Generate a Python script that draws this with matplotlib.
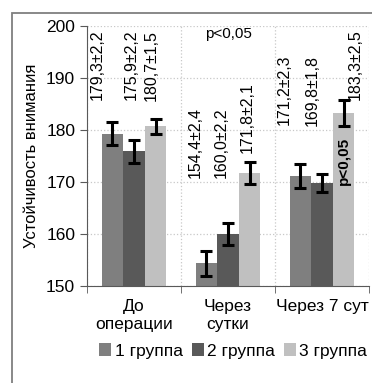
import matplotlib
matplotlib.use('agg')
import matplotlib.pyplot as plt
import numpy as np
from matplotlib.patches import Rectangle

plt.rcParams['font.family'] = ['Liberation Sans', 'DejaVu Sans']

categories = ['До\nоперации', 'Через\nсутки', 'Через 7 сут']
groups = ['1 группа', '2 группа', '3 группа']
means = [[179.3, 154.4, 171.2],
         [175.9, 160.0, 169.8],
         [180.7, 171.8, 183.3]]
errors = [[2.2, 2.4, 2.3],
          [2.2, 2.2, 1.8],
          [1.5, 2.1, 2.5]]
value_labels = [['179,3±2,2', '154,4±2,4', '171,2±2,3'],
                ['175,9±2,2', '160,0±2,2', '169,8±1,8'],
                ['180,7±1,5', '171,8±2,1', '183,3±2,5']]
colors = ['#7f7f7f', '#595959', '#c0c0c0']

# label placement (x offset, y, vertical anchor) per group / category
label_pos = [[(-0.39, 199.3, 'top'), (-0.35, 170.8, 'bottom'), (-0.40, 194.5, 'top')],
             [(-0.03, 199.3, 'top'), (-0.07, 170.8, 'bottom'), (-0.10, 194.5, 'top')],
             [(0.18, 199.3, 'top'), (0.21, 175.6, 'bottom'), (0.35, 199.3, 'top')]]

fig = plt.figure(figsize=(3.72, 3.83), dpi=100)
ax = fig.add_axes([87 / 372, 1 - 286 / 383, 282 / 372, 260 / 383])

fig.patches.append(Rectangle((12 / 372, -0.1), 1.2, 1 - 13 / 383 + 0.1,
                             transform=fig.transFigure, fill=False,
                             edgecolor='#7f7f7f', lw=1.3))

x = np.arange(len(categories))
w = 0.23
for i in range(3):
    ax.bar(x + (i - 1) * w, means[i], w, color=colors[i], label=groups[i], zorder=2)
    ax.errorbar(x + (i - 1) * w, means[i], yerr=errors[i], fmt='none', ecolor='black',
                elinewidth=2.2, capsize=4.5, capthick=2.2, zorder=3)
    for j in range(3):
        dx, yy, va = label_pos[i][j]
        ax.text(j + dx, yy, value_labels[i][j], rotation=90, ha='center', va=va,
                fontsize=11.5, zorder=4)

ax.text(1, 198.4, 'p<0,05', ha='center', va='center', fontsize=11)
ax.text(2 + w, 174.0, 'p<0,05', rotation=90, ha='center', va='center',
        fontsize=11, fontweight='bold', zorder=4)

ax.set_xlim(-0.5, 2.5)
ax.set_ylim(150, 200)
ax.set_yticks(np.arange(150, 201, 10))
ax.set_xticks(x)
ax.set_xticklabels(categories, fontsize=12.5, linespacing=1.3)
ax.set_xticks([-0.5, 0.5, 1.5, 2.5], minor=True)
ax.tick_params(axis='x', which='major', length=0, pad=9)
ax.tick_params(axis='x', which='minor', length=5, color='#595959')
ax.tick_params(axis='y', length=5, color='#595959', labelsize=12.5)
ax.grid(axis='y', which='major', ls=':', color='#c8c8c8', lw=0.9, zorder=0)
ax.grid(axis='x', which='minor', ls=':', color='#c8c8c8', lw=0.9, zorder=0)
for s in ['top', 'right']:
    ax.spines[s].set_visible(False)
for s in ['left', 'bottom']:
    ax.spines[s].set_color('#595959')
ax.set_ylabel('Устойчивость внимания', fontsize=12)
ax.yaxis.set_label_coords(-48 / 282, 0.5)

fig.legend(loc='center', bbox_to_anchor=(0.627, 1 - 351 / 383), ncol=3, frameon=False,
           fontsize=12.5, handlelength=0.7, handleheight=0.7, handletextpad=0.2,
           columnspacing=0.5)

plt.savefig('out.png', dpi=100)
